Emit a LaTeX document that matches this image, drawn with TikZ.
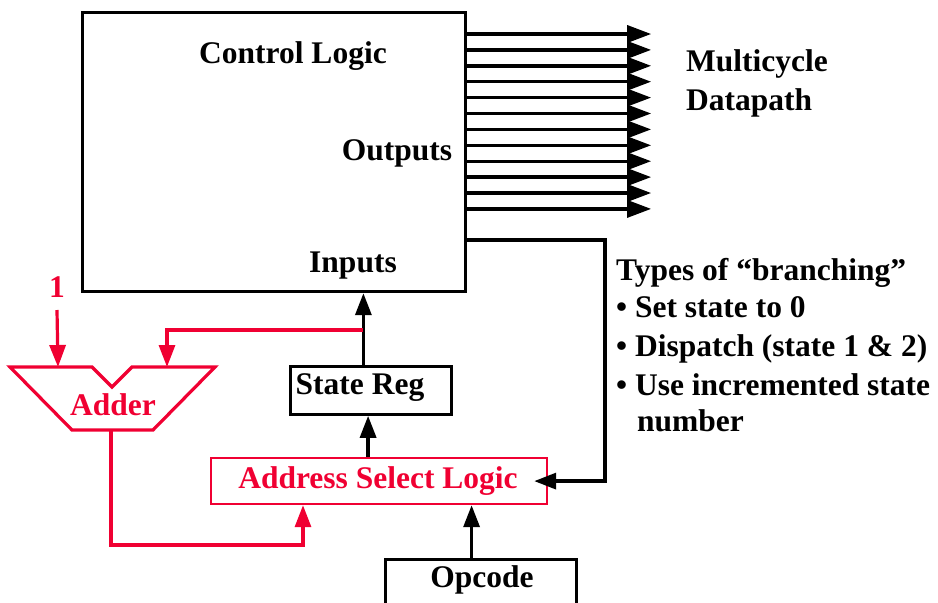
\documentclass[tikz,border=0pt]{standalone}
\usepackage{fontspec}
\setmainfont{Liberation Serif}
\usetikzlibrary{arrows.meta}
\definecolor{myred}{RGB}{240,0,50}
\begin{document}
\begin{tikzpicture}[x=1pt,y=-1pt,
  txt/.style={font=\fontsize{31.5}{36}\selectfont\bfseries, inner sep=0pt, anchor=base},
  ltxt/.style={txt, anchor=base west},
  rtxt/.style={txt, text=myred},
  arr/.style={line width=3.4pt, -{Triangle[length=22pt,width=16pt]}},
  oarr/.style={line width=3.4pt, -{Triangle[length=24pt,width=17pt]}},
  rarr/.style={draw=myred, line width=3.2pt, -{Triangle[length=22pt,width=16pt]}, color=myred},
  box/.style={draw, inner sep=0pt, anchor=north west}]
\useasboundingbox (0,0) rectangle (938,603);

% Control logic block
\node[box, line width=3.2pt, minimum width=383pt, minimum height=279pt] (ctl) at (81,11) {};
\node[txt] (tcl) at (293,63) {Control Logic};
\node[txt] (tout) at (397,160) {Outputs};
\node[txt] (tin) at (353,272) {Inputs};

% outputs
\foreach \k in {0,...,11} {
  \pgfmathsetmacro\yy{34+15.9*\k}
  \draw[oarr] (ctl.east |- 0,\yy) -- ++(184,0);
}
\node[ltxt] (mc1) at (686,71) {Multicycle};
\node[ltxt] (mc2) at (686,110) {Datapath};

% boxes
\node[box, draw=myred, line width=2.2pt, minimum width=336pt, minimum height=46pt] (addr) at (210,457) {};
\node[rtxt] (taddr) at (378,488) {Address Select Logic};
\node[box, line width=2.8pt, minimum width=161pt, minimum height=48pt] (sreg) at (289,365) {};
\node[txt] (tsreg) at (360,394) {State Reg};

\begin{scope}
\clip (0,0) rectangle (938,603);
\node[box, line width=3.2pt, minimum width=191pt, minimum height=80pt] (opc) at (384,558) {};
\end{scope}
\node[txt] (topc) at (482,587) {Opcode};

% black arrows
\draw[arr] ([xshift=-7.5pt]sreg.north) -- ([xshift=-7.5pt]sreg.north |- ctl.south);
\draw[arr] ([xshift=-11pt]addr.north) -- ([xshift=-11pt]addr.north |- sreg.south);
\draw[arr] ([xshift=-9.5pt]opc.north) -- ([xshift=-9.5pt]opc.north |- addr.south);
\draw[arr] (ctl.east |- 0,240) -- (605,240) |- ([xshift=-14pt]addr.east);

% branching text
\node[ltxt] (b0) at (616,280) {Types of “branching”};
\node[ltxt] (b1) at (616,317) {• Set state to 0};
\node[ltxt] (b2) at (616,356) {• Dispatch (state 1 \& 2)};
\node[ltxt] (b3) at (616,395) {• Use incremented state};
\node[ltxt] (b4) at (637,431) {number};

% adder
\draw[myred, line width=3.2pt, line join=miter]
  (10,367) -- (92,367) -- (112,387) -- (132,367) -- (215,367) -- (153,430) -- (72,430) -- cycle;
\coordinate (adin1) at (58,367);
\coordinate (adin2) at (167,367);
\coordinate (adout) at (111,430);
\coordinate (tap) at ([xshift=-7.5pt]sreg.north |- 0,330);
\coordinate (kink) at (303,545);
\node[rtxt] (tadd) at (113,415) {Adder};
\node[rtxt] (one) at (57,297) {1};

\draw[rarr] ([yshift=-13pt]one.base) -- (adin1);
\draw[rarr] (tap) -| (adin2);
\draw[rarr] (adout) |- (kink) -- (kink |- addr.south);
\end{tikzpicture}
\end{document}
